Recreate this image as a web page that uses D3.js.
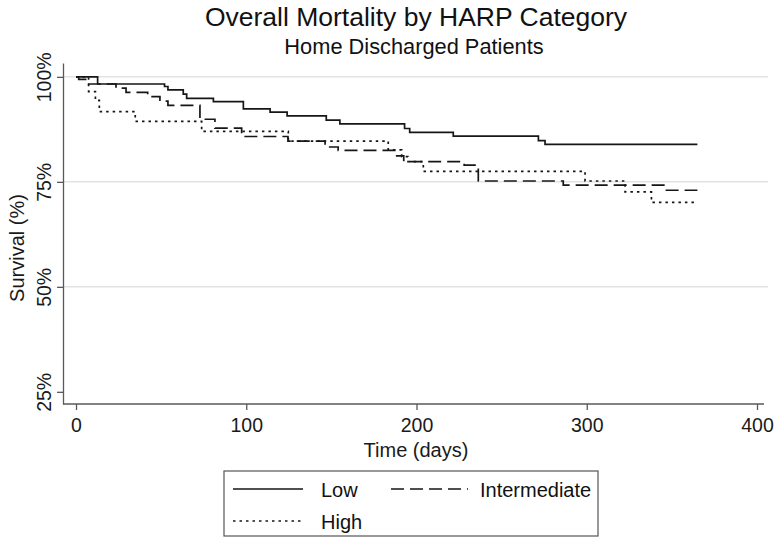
<!DOCTYPE html>
<html>
<head>
<meta charset="utf-8">
<script src="https://cdn.jsdelivr.net/npm/d3@7"></script>
<style>
  html, body { margin: 0; padding: 0; background: #fff; }
  svg { display: block; font-family: "Liberation Sans", Arial, Helvetica, sans-serif; }
</style>
</head>
<body>
<svg id="chart" width="776" height="538"></svg>
<script>
// ---- data ----
const title = "Overall Mortality by HARP Category";
const subtitle = "Home Discharged Patients";
const xTicks = [0, 100, 200, 300, 400];
const yTicks = [25, 50, 75, 100];
const yGrid = [50, 75, 100];
const seriesNames = ["Low", "Intermediate", "High"];

const lowTimes = [0, 12.7, 52, 54, 63, 65, 80.7, 98.3, 114, 124, 147, 155, 193, 196, 221.6, 271.6, 275.5, 365];
const lowSurv  = [100, 98.3, 97.7, 96.9, 95.9, 94.9, 94.1, 92.4, 91.6, 90.7, 89.7, 88.8, 87.7, 86.8, 85.9, 84.8, 83.9, 83.9];

const intTimes = [0, 1.6, 6.3, 23.5, 29.4, 42.1, 49.3, 54, 72.8, 81.6, 97.3, 124.5, 146.3, 154, 188.4, 192.5, 228, 236.3, 286.2, 346, 365];
const intSurv  = [100, 99.4, 98.3, 97.3, 96.3, 95.3, 94.2, 93.2, 89.9, 87.8, 85.8, 84.7, 83.3, 82.5, 81.2, 79.8, 79.0, 75.2, 74.2, 73.0, 73.0];

const highTimes = [0, 7.4, 11.4, 13.7, 34.8, 73.8, 124.7, 183.4, 191.3, 195, 204, 299, 322.5, 338, 365];
const highSurv  = [100, 96.5, 94.4, 91.7, 89.4, 87.0, 84.7, 82.6, 81.0, 79.8, 77.5, 75.2, 72.6, 70.1, 70.1];

// ---- layout ----
const svg = d3.select("#chart");
const x = d3.scaleLinear().domain([0, 400]).range([76, 757]);
const y = d3.scaleLinear().domain([22.1, 103.3]).range([404, 63]);
const axisColor = "#595959";
const lineColor = "#161616";
const textColor = "#1a1a1a";
const dashes = ["none", "13,6", "2.5,4"];

// gridlines
svg.append("g").selectAll("line").data(yGrid).join("line")
  .attr("x1", 64).attr("x2", 768)
  .attr("y1", d => y(d)).attr("y2", d => y(d))
  .attr("stroke", "#e3e3e3").attr("stroke-width", 1.5);

// y axis
const yAxis = svg.append("g").attr("transform", "translate(63,0)")
  .call(d3.axisLeft(y).tickValues(yTicks).tickFormat(d => d + "%").tickSize(6).tickSizeOuter(0));
yAxis.select(".domain").attr("stroke", axisColor).attr("stroke-width", 1.3);
yAxis.selectAll(".tick line").attr("stroke", axisColor).attr("stroke-width", 1.3);
yAxis.selectAll(".tick text")
  .attr("font-size", 19.5).attr("fill", textColor).attr("font-family", "Liberation Sans, Arial, sans-serif")
  .attr("transform", "rotate(-90)")
  .attr("x", 0).attr("y", -12).attr("dy", 0)
  .attr("text-anchor", "middle");

// x axis
const xAxis = svg.append("g").attr("transform", "translate(0,404)")
  .call(d3.axisBottom(x).tickValues(xTicks).tickSize(6).tickSizeOuter(0));
xAxis.select(".domain").attr("stroke", axisColor).attr("stroke-width", 1.3)
  .attr("d", "M63,0H764");
xAxis.selectAll(".tick line").attr("stroke", axisColor).attr("stroke-width", 1.3);
xAxis.selectAll(".tick text")
  .attr("font-size", 19.5).attr("fill", textColor).attr("font-family", "Liberation Sans, Arial, sans-serif")
  .attr("y", 14).attr("dy", "0.71em");

// axis titles
svg.append("text").attr("x", 416).attr("y", 457).attr("text-anchor", "middle")
  .attr("font-size", 20).attr("fill", textColor).text("Time (days)");
svg.append("text").attr("transform", "translate(24,248) rotate(-90)").attr("text-anchor", "middle")
  .attr("font-size", 20).attr("fill", textColor).text("Survival (%)");

// titles
svg.append("text").attr("x", 416).attr("y", 26).attr("text-anchor", "middle")
  .attr("font-size", 26.5).attr("fill", "#111").text(title);
svg.append("text").attr("x", 414).attr("y", 54).attr("text-anchor", "middle")
  .attr("font-size", 21.8).attr("fill", "#111").text(subtitle);

// curves
const series = [
  { t: lowTimes, s: lowSurv },
  { t: intTimes, s: intSurv },
  { t: highTimes, s: highSurv }
];
const line = d3.line().x(d => x(d[0])).y(d => y(d[1])).curve(d3.curveStepAfter);
series.forEach((ser, i) => {
  const pts = ser.t.map((t, j) => [t, ser.s[j]]);
  svg.append("path").datum(pts).attr("d", line)
    .attr("fill", "none").attr("stroke", lineColor).attr("stroke-width", 1.7)
    .attr("stroke-dasharray", dashes[i]);
});

// legend
const lg = svg.append("g");
lg.append("rect").attr("x", 224).attr("y", 471).attr("width", 374).attr("height", 65)
  .attr("fill", "#fff").attr("stroke", "#555").attr("stroke-width", 1.2);
const legendPos = [
  { lx1: 233, lx2: 303, ly: 489, tx: 321, ty: 497 },
  { lx1: 391, lx2: 468, ly: 489, tx: 480, ty: 497 },
  { lx1: 233, lx2: 303, ly: 521, tx: 321, ty: 529 }
];
seriesNames.forEach((name, i) => {
  const p = legendPos[i];
  lg.append("line").attr("x1", p.lx1).attr("x2", p.lx2).attr("y1", p.ly).attr("y2", p.ly)
    .attr("stroke", lineColor).attr("stroke-width", 1.7).attr("stroke-dasharray", dashes[i]);
  lg.append("text").attr("x", p.tx).attr("y", p.ty).attr("font-size", 20).attr("fill", "#111").text(name);
});
</script>
</body>
</html>
